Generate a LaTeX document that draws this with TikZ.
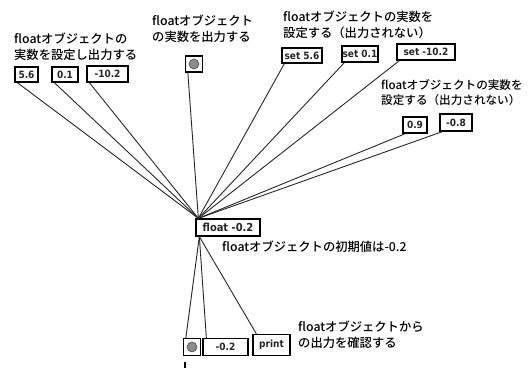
\documentclass[tikz,border=0pt]{standalone}
\usepackage{fontspec}
\setmainfont{Noto Sans CJK JP}
\newfontfamily\notefont{Noto Sans CJK JP Medium}
\newfontfamily\boxfont{DejaVu Sans Condensed Bold}
\usetikzlibrary{calc}
\begin{document}
\begin{tikzpicture}[x=1pt,y=-1pt,
  objbox/.style={draw=black, line width=1.3pt, fill=white, inner sep=0pt,
     font=\boxfont\fontsize{10}{10}\selectfont, text=black!85},
  bangbox/.style={draw=black, line width=1.3pt, fill=white, inner sep=0pt, minimum width=17pt, minimum height=17pt},
  note/.style={anchor=north west, align=left, inner sep=0pt,
     font=\notefont\fontsize{12.3}{15.5}\selectfont},
  wire/.style={line width=0.9pt, black!85}]
\useasboundingbox (0,0) rectangle (531,371);

% notes
\node[note] (t1) at (14,33) {floatオブジェクトの\\実数を設定し出力する};
\node[note] (t2) at (152,15) {floatオブジェクト\\の実数を出力する};
\node[note] (t3) at (283,11) {floatオブジェクトの実数を\\設定する（出力されない）};
\node[note, font=\notefont\fontsize{11.6}{15.5}\selectfont] (t4) at (381,79) {floatオブジェクトの実数を\\設定する（出力されない）};
\node[note] (t5) at (222,241) {floatオブジェクトの初期値は-0.2};
\node[note] (t6) at (298,321) {floatオブジェクトから\\の出力を確認する};

% top objects
\node[objbox, minimum width=23pt, minimum height=15pt] (n56) at (26.5,74.5) {5.6};
\node[objbox, minimum width=26pt, minimum height=15pt] (n01) at (65,74.5) {0.1};
\node[objbox, minimum width=41pt, minimum height=16pt] (n102) at (107.5,74) {-10.2};
\node[bangbox, minimum width=17pt, minimum height=16pt] (bt) at (194,64) {};
\fill[black!45] (bt.center) circle (5pt);
\draw[black!70, line width=0.6pt] (bt.center) circle (5pt);
\node[objbox, minimum width=40pt, minimum height=15pt] (s56) at (302,55.5) {set 5.6};
\node[objbox, minimum width=36pt, minimum height=16pt] (s01) at (360,54) {set 0.1};
\node[objbox, minimum width=58pt, minimum height=16pt] (s102) at (426,52) {set -10.2};
\node[objbox, minimum width=24pt, minimum height=16pt] (n09) at (415,125) {0.9};
\node[objbox, minimum width=32pt, minimum height=17pt] (n08) at (456,122.5) {-0.8};

% float object
\node[objbox, minimum width=64pt, minimum height=17pt, font=\boxfont\fontsize{11}{11}\selectfont] (flt) at (228,227.5) {float -0.2};

% bottom objects
\node[bangbox] (bb) at (192,347) {};
\fill[black!45] (bb.center) circle (5pt);
\draw[black!70, line width=0.6pt] (bb.center) circle (5pt);
\node[objbox, minimum width=45pt, minimum height=17pt] (nm) at (225.5,347) {-0.2};
\node[objbox, minimum width=37pt, minimum height=21pt] (pr) at (271.5,345) {print};

% wires into float
\foreach \s in {n56,n01,n102,bt,s56,s01,s102,n09,n08}
  \draw[wire] ([xshift=3pt]\s.south west) -- ([xshift=3pt]flt.north west);

% wires out of float
\draw[wire] ([xshift=4pt]flt.south west) -- ([xshift=3pt]bb.north west);
\draw[wire] ([xshift=4pt]flt.south west) -- ([xshift=4pt]nm.north west);
\draw[wire] ([xshift=4pt]flt.south west) -- ([xshift=4pt]pr.north west);

% small stub under bottom bang
\draw[line width=1.4pt] ([xshift=2pt,yshift=-6pt]bb.south west) -- ++(0pt,-6pt);
\end{tikzpicture}
\end{document}
